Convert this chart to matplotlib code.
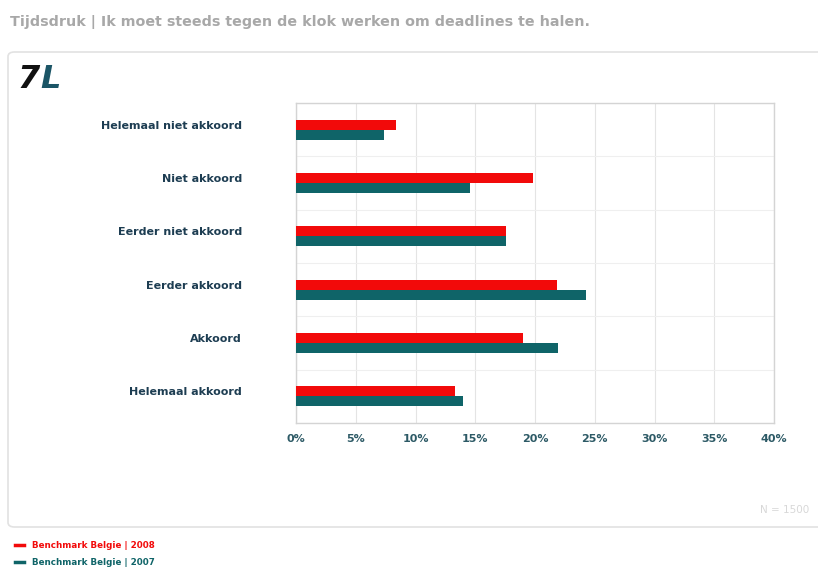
import numpy as np
import matplotlib
matplotlib.use('Agg')
import matplotlib.pyplot as plt
import matplotlib.transforms as mtransforms
from matplotlib.patches import FancyBboxPatch
from matplotlib.lines import Line2D

categories = ['Helemaal niet akkoord', 'Niet akkoord', 'Eerder niet akkoord',
              'Eerder akkoord', 'Akkoord', 'Helemaal akkoord']
bench_2008 = [8.4, 19.8, 17.6, 21.8, 19.0, 13.3]
bench_2007 = [7.4, 14.6, 17.6, 24.3, 21.9, 14.0]
series_labels = ['Benchmark Belgie | 2008', 'Benchmark Belgie | 2007']
xticks = [0, 5, 10, 15, 20, 25, 30, 35, 40]
title = 'Tijdsdruk | Ik moet steeds tegen de klok werken om deadlines te halen.'
n_note = 'N = 1500'

red = '#f20a0a'
teal = '#0f6468'
label_col = '#1d3d52'

W, H = 818, 569
fig = plt.figure(figsize=(W / 100, H / 100), dpi=100)
fig.patch.set_facecolor('white')

# outer panel (behind the axes)
panel = FancyBboxPatch((8 / W, 1 - 527 / H), 830 / W, 475 / H,
                       boxstyle='round,pad=0,rounding_size=0.008',
                       transform=fig.transFigure, facecolor='white',
                       edgecolor='#e2e2e2', linewidth=1.2, zorder=-5)
fig.patches.append(panel)

fig.text(10 / W, 1 - 22 / H, title, fontsize=10.3, fontweight='bold',
         color='#a8a8a8', va='center', ha='left')

# logo
fig.text(18 / W, 1 - 80 / H, '7', fontsize=23, fontweight='bold', style='italic',
         color='#111111', va='center', ha='left')
fig.text(40 / W, 1 - 80 / H, 'L', fontsize=23, fontweight='bold', style='italic',
         color='#1b5566', va='center', ha='left')

ax = fig.add_axes([296 / W, 1 - 423 / H, 478 / W, 320 / H])
y = np.arange(len(categories))
h = 0.19
ax.barh(y - h / 2, bench_2008, height=h, color=red, zorder=3)
ax.barh(y + h / 2, bench_2007, height=h, color=teal, zorder=3)

ax.set_xlim(0, 40)
ax.set_ylim(len(categories) - 0.5, -0.5)
ax.set_xticks(xticks)
ax.set_xticklabels([f'{v}%' for v in xticks], fontsize=8, fontweight='bold',
                   color='#2d5a66')
ax.set_yticks(y)
ax.set_yticklabels(categories, fontsize=8, fontweight='bold', color=label_col)
ax.set_yticks(np.arange(len(categories) + 1) - 0.5, minor=True)
ax.tick_params(axis='y', which='both', length=0, pad=39)
ax.tick_params(axis='x', length=0, pad=8)
shift = mtransforms.ScaledTranslation(0, 5 / 100, fig.dpi_scale_trans)
for lab in ax.get_yticklabels():
    lab.set_transform(lab.get_transform() + shift)

ax.grid(axis='x', color='#e4e4e4', linewidth=0.8, zorder=0)
ax.grid(axis='y', which='minor', color='#efefef', linewidth=0.8, zorder=0)
for s in ax.spines.values():
    s.set_color('#d4d4d4')
    s.set_linewidth(1.0)

fig.text(760 / W, 1 - 510 / H, n_note, fontsize=7.5, color='#d8d8d8',
         va='center', ha='left')

# legend
handles = [Line2D([], [], color=red, linewidth=2.5),
           Line2D([], [], color=teal, linewidth=2.5)]
leg = fig.legend(handles, series_labels, loc='upper left',
                 bbox_to_anchor=(15 / W, 1 - 541 / H), frameon=False,
                 handlelength=1.0, handletextpad=1.0, labelspacing=0.95,
                 borderpad=0, borderaxespad=0,
                 prop={'size': 6.3, 'weight': 'bold'})
for txt, c in zip(leg.get_texts(), [red, teal]):
    txt.set_color(c)

fig.savefig('out.png', dpi=100, facecolor='white')
